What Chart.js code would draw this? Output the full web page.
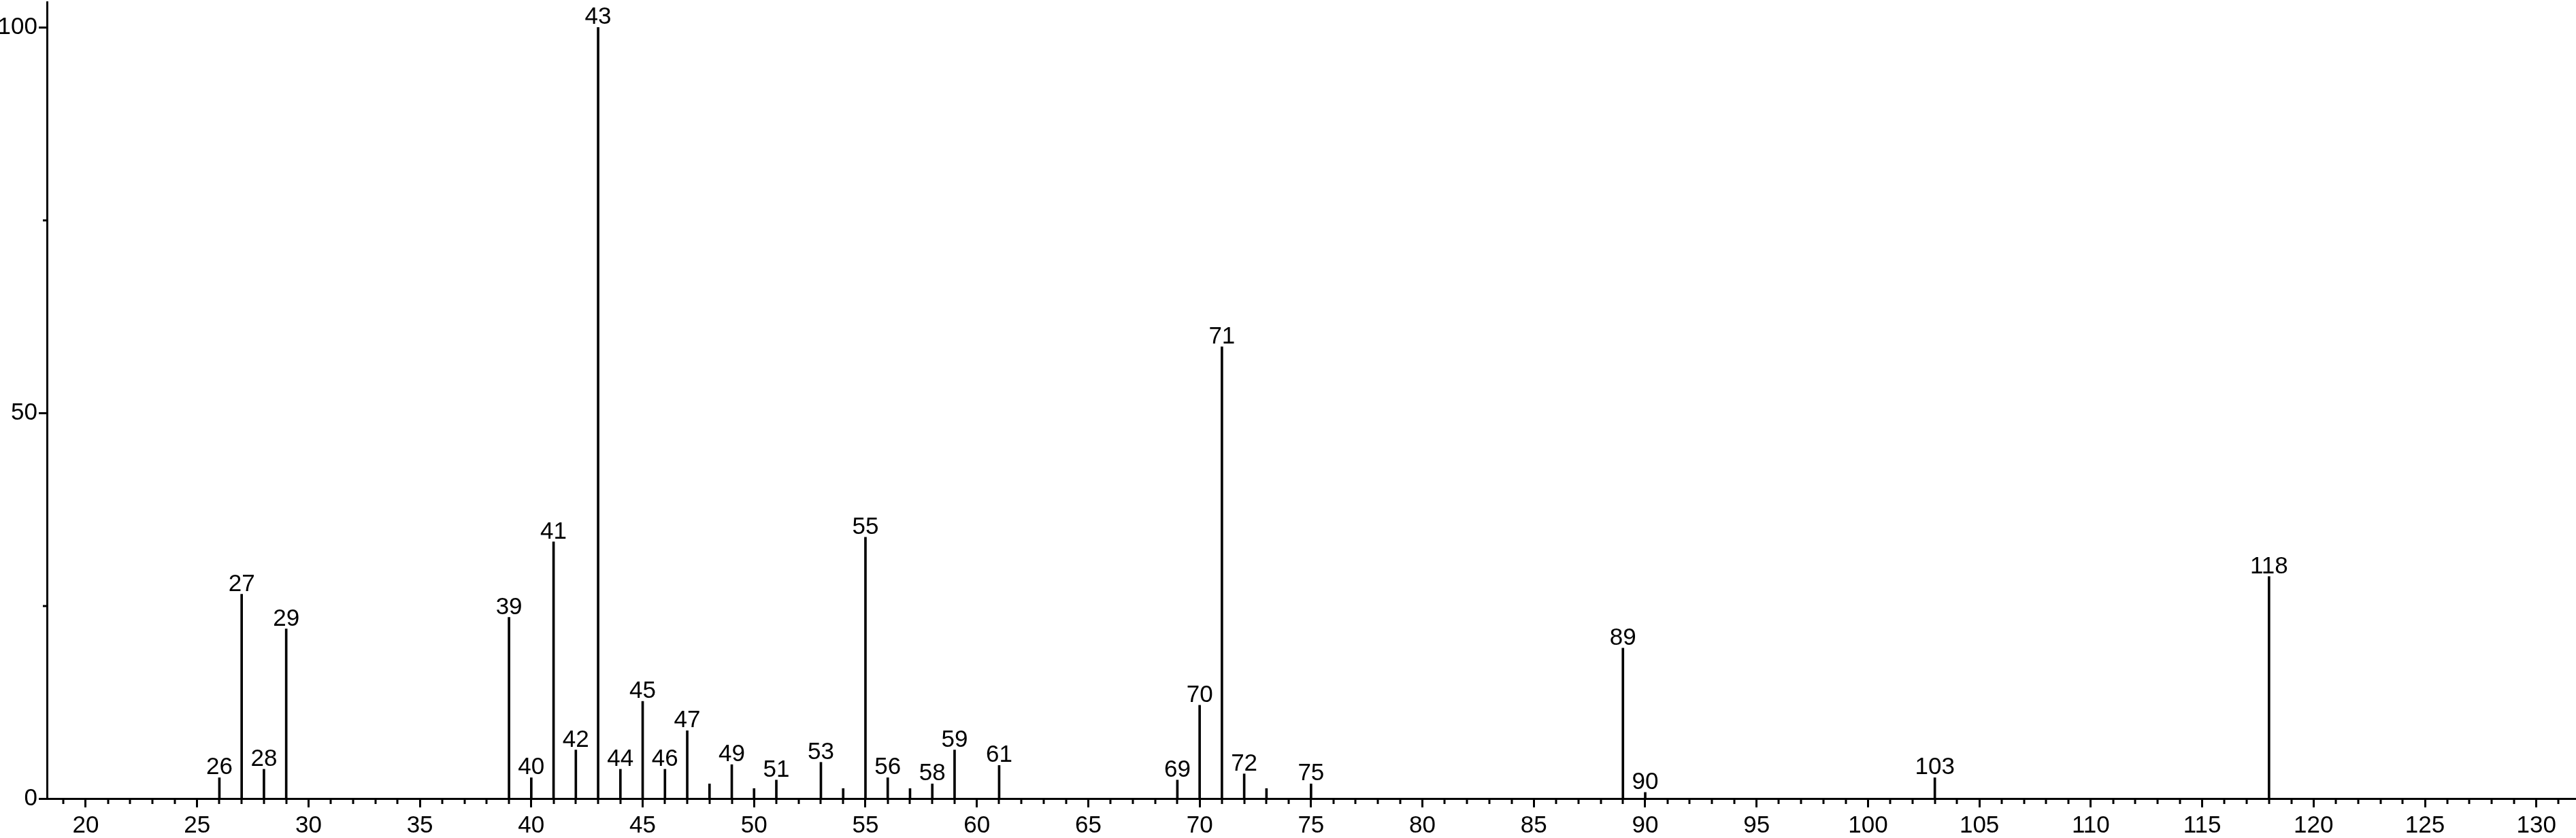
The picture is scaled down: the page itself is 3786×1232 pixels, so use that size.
<!DOCTYPE html>
<html>
<head>
<meta charset="utf-8">
<script src="https://cdn.jsdelivr.net/npm/chart.js@4.4.1/dist/chart.umd.min.js"></script>
<style>
  html, body { margin: 0; padding: 0; background: #ffffff; overflow: hidden; }
  #wrap { width: 3786px; height: 1232px; position: relative; }
</style>
</head>
<body>
<div id="wrap"><canvas id="c" width="3786" height="1232"></canvas></div>
<script>
// m/z values of the peaks
const mz = [26, 27, 28, 29, 39, 40, 41, 42, 43, 44, 45, 46, 47, 48, 49, 50, 51, 53, 54, 55,
            56, 57, 58, 59, 61, 69, 70, 71, 72, 73, 75, 89, 90, 103, 118];
// relative intensities (%)
const intensity = [2.7, 26.5, 3.8, 22.0, 23.5, 2.7, 33.3, 6.3, 100, 3.8, 12.6, 3.8, 8.8, 1.9, 4.4, 1.3, 2.4, 4.7, 1.3, 33.9,
                   2.7, 1.3, 1.9, 6.3, 4.3, 2.4, 12.1, 58.6, 3.2, 1.3, 1.9, 19.5, 0.8, 2.7, 28.8];
// peaks that carry an m/z label
const labeledMz = [26, 27, 28, 29, 39, 40, 41, 42, 43, 44, 45, 46, 47, 49, 51, 53, 55, 56, 58, 59,
                   61, 69, 70, 71, 72, 75, 89, 90, 103, 118];
// axis tick labels
const xTickValues = [20, 25, 30, 35, 40, 45, 50, 55, 60, 65, 70, 75, 80, 85, 90, 95, 100, 105, 110, 115, 120, 125, 130];
const yTickValues = [0, 50, 100];
const yMinorTickValues = [25, 75];

const FONT = '"Liberation Sans", Arial, Helvetica, sans-serif';
const FONT_SIZE = 35;

const points = mz.map((m, i) => ({ x: m, y: intensity[i] }));

const bgPlugin = {
  id: 'bg',
  beforeDraw(chart) {
    const ctx = chart.ctx;
    ctx.save();
    ctx.fillStyle = '#ffffff';
    ctx.fillRect(0, 0, chart.width, chart.height);
    ctx.restore();
  }
};

const minorTicksPlugin = {
  id: 'minorTicks',
  afterDraw(chart) {
    const ctx = chart.ctx;
    const xs = chart.scales.x, ys = chart.scales.y;
    ctx.save();
    ctx.strokeStyle = '#000';
    ctx.lineWidth = 3;
    ctx.beginPath();
    const bottom = chart.chartArea.bottom;
    for (let v = Math.ceil(xs.min); v <= Math.floor(xs.max); v++) {
      if (v % 5 === 0) continue;
      const px = Math.round(xs.getPixelForValue(v));
      ctx.moveTo(px, bottom);
      ctx.lineTo(px, bottom + 8);
    }
    const left = chart.chartArea.left;
    yMinorTickValues.forEach(v => {
      const py = Math.round(ys.getPixelForValue(v));
      ctx.moveTo(left - 6, py);
      ctx.lineTo(left, py);
    });
    ctx.stroke();
    ctx.restore();
  }
};

const peakLabelPlugin = {
  id: 'peakLabels',
  afterDraw(chart) {
    const ctx = chart.ctx;
    const xs = chart.scales.x, ys = chart.scales.y;
    ctx.save();
    ctx.fillStyle = '#000';
    ctx.font = FONT_SIZE + 'px ' + FONT;
    ctx.textAlign = 'center';
    ctx.textBaseline = 'alphabetic';
    mz.forEach((m, i) => {
      if (labeledMz.indexOf(m) === -1) return;
      const px = xs.getPixelForValue(m);
      const py = ys.getPixelForValue(intensity[i]);
      ctx.fillText(String(m), px, py - 5);
    });
    ctx.restore();
  }
};

new Chart(document.getElementById('c'), {
  type: 'bar',
  data: {
    datasets: [{
      data: points,
      backgroundColor: '#000',
      borderWidth: 0,
      barThickness: 3
    }]
  },
  options: {
    responsive: false,
    animation: false,
    devicePixelRatio: 1,
    layout: { padding: { top: 3, right: 0, bottom: 0, left: 0 } },
    plugins: { legend: { display: false }, tooltip: { enabled: false } },
    scales: {
      x: {
        type: 'linear',
        min: 18.26,
        max: 131.78,
        offset: false,
        afterBuildTicks: s => { s.ticks = xTickValues.map(v => ({ value: v })); },
        afterFit: s => { s.height = 58; s.paddingLeft = 0; s.paddingRight = 0; },
        grid: { drawOnChartArea: false, offset: false, tickLength: 13, tickWidth: 3, tickColor: '#000' },
        border: { display: true, color: '#000', width: 3 },
        ticks: { color: '#000', font: { family: FONT, size: FONT_SIZE }, padding: 6, maxRotation: 0, autoSkip: false }
      },
      y: {
        type: 'linear',
        min: 0,
        max: 103.3,
        afterBuildTicks: s => { s.ticks = yTickValues.map(v => ({ value: v })); },
        afterFit: s => { s.width = 69; s.paddingTop = 0; s.paddingBottom = 0; },
        grid: { drawOnChartArea: false, tickLength: 12, tickWidth: 3, tickColor: '#000' },
        border: { display: true, color: '#000', width: 3 },
        ticks: { color: '#000', font: { family: FONT, size: FONT_SIZE }, padding: 2 }
      }
    }
  },
  plugins: [bgPlugin, minorTicksPlugin, peakLabelPlugin]
});
</script>
</body>
</html>
